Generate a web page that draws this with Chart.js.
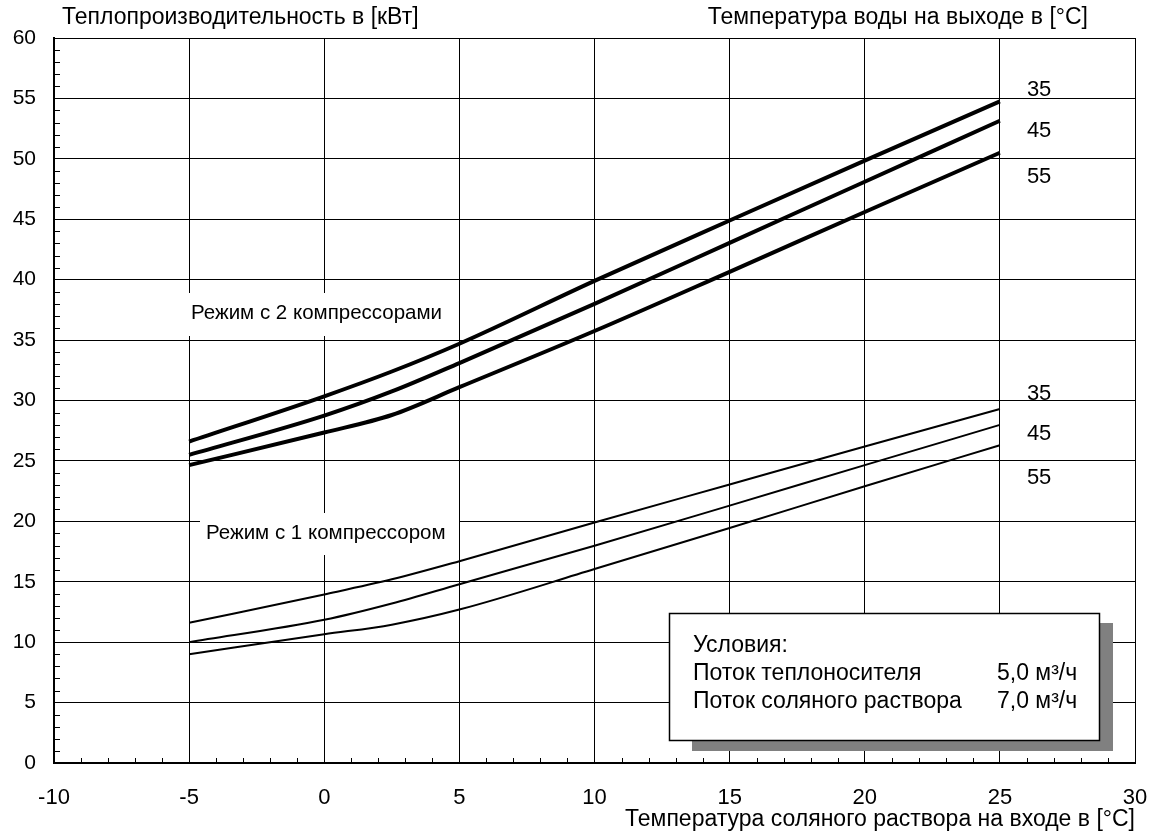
<!DOCTYPE html>
<html><head><meta charset="utf-8">
<script src="https://cdn.jsdelivr.net/npm/chart.js@4.4.1/dist/chart.umd.min.js"></script>
<style>html,body{margin:0;padding:0;background:#fff;}#wrap{width:1158px;height:838px;}</style>
</head><body><div id="wrap"><canvas id="c" width="1158" height="838"></canvas></div>
<script>
// ---- data ----
const brineTemps = [-5, 0, 2.5, 5, 10, 15, 20, 25];
const twoComp35 = [26.6, 30.35, 32.4, 34.7, 39.9, 44.9, 49.85, 54.75];
const twoComp45 = [25.5, 28.75, 30.75, 33.1, 38.0, 43.05, 48.1, 53.15];
const twoComp55 = [24.65, 27.35, 28.8, 31.1, 35.75, 40.65, 45.6, 50.5];
const oneComp35 = [11.6, 13.95, 15.2, 16.7, 19.9, 23.05, 26.2, 29.3];
const oneComp45 = [10.0, 11.85, 13.2, 14.8, 17.98, 21.3, 24.65, 27.98];
const oneComp55 = [9.0, 10.65, 11.45, 12.7, 16.05, 19.45, 22.9, 26.3];
const outletTemps = ['35', '45', '55'];
const xRange = [-10, 30];
const yRange = [0, 60];

const FONT = "'Liberation Sans', Arial, sans-serif";

function series(vals) { return brineTemps.map((x, i) => ({x: x, y: vals[i]})); }
function ds(vals, w) {
  return {data: series(vals), borderColor: '#000', borderWidth: w, pointRadius: 0,
    fill: false, cubicInterpolationMode: 'monotone', borderCapStyle: 'butt'};
}

const decor = {
  id: 'decor',
  beforeDatasetsDraw(chart) {
    const ctx = chart.ctx, xs = chart.scales.x, ys = chart.scales.y, a = chart.chartArea;
    ctx.save();
    // minor ticks
    ctx.strokeStyle = '#000'; ctx.lineWidth = 1;
    ctx.beginPath();
    for (let v = xRange[0] + 1; v < xRange[1]; v++) {
      if (v % 5 === 0) continue;
      const px = Math.round(xs.getPixelForValue(v)) + 0.5;
      ctx.moveTo(px, a.bottom); ctx.lineTo(px, a.bottom - 5);
    }
    for (let v = yRange[0] + 1; v < yRange[1]; v++) {
      if (v % 5 === 0) continue;
      const py = Math.round(ys.getPixelForValue(v)) + 0.5;
      ctx.moveTo(a.left, py); ctx.lineTo(a.left + 6, py);
    }
    ctx.stroke();
    // mode labels with white backing
    ctx.font = '20.5px ' + FONT;
    ctx.textBaseline = 'middle'; ctx.textAlign = 'left';
    const boxes = [
      {t: 'Режим с 2 компрессорами', x0: 180, x1: 456, y0: 293, y1: 336, tx: 191, ty: 313},
      {t: 'Режим с 1 компрессором', x0: 200, x1: 459, y0: 513, y1: 555, tx: 206, ty: 533}
    ];
    boxes.forEach(b => {
      ctx.fillStyle = '#fff'; ctx.fillRect(b.x0, b.y0, b.x1 - b.x0, b.y1 - b.y0);
      ctx.fillStyle = '#000'; ctx.fillText(b.t, b.tx, b.ty);
    });
    ctx.restore();
  },
  afterDatasetsDraw(chart) {
    const ctx = chart.ctx, xs = chart.scales.x, a = chart.chartArea;
    ctx.save();
    ctx.font = '23px ' + FONT;
    ctx.fillStyle = '#000';
    ctx.textBaseline = 'middle';
    // titles
    ctx.textAlign = 'left';
    ctx.fillText('Теплопроизводительность в [кВт]', 62, 18);
    ctx.textAlign = 'right';
    ctx.fillText('Температура воды на выходе в [°C]', 1088, 18);
    ctx.fillText('Температура соляного раствора на входе в [°C]', a.right, 820);
    // series labels
    ctx.font = '22px ' + FONT;
    ctx.textAlign = 'left';
    const lx = xs.getPixelForValue(25) + 27;
    [89.5, 131, 177].forEach((py, i) => ctx.fillText(outletTemps[i], lx, py));
    [394, 434, 478].forEach((py, i) => ctx.fillText(outletTemps[i], lx, py));
    // info box
    ctx.fillStyle = '#808080';
    ctx.fillRect(692, 623, 421, 128);
    ctx.fillStyle = '#fff';
    ctx.fillRect(669.5, 613.5, 430, 127);
    ctx.strokeStyle = '#000'; ctx.lineWidth = 1.5;
    ctx.strokeRect(669.5, 613.5, 430, 127);
    ctx.font = '23px ' + FONT;
    ctx.fillStyle = '#000';
    ctx.textAlign = 'left';
    ctx.fillText('Условия:', 693, 646);
    ctx.fillText('Поток теплоносителя', 693, 674);
    ctx.fillText('Поток соляного раствора', 693, 702);
    ctx.fillText('5,0 м³/ч', 997, 674);
    ctx.fillText('7,0 м³/ч', 997, 702);
    ctx.restore();
  }
};

new Chart(document.getElementById('c'), {
  type: 'line',
  data: {datasets: [
    ds(twoComp35, 4), ds(twoComp45, 4), ds(twoComp55, 4),
    ds(oneComp35, 2), ds(oneComp45, 2), ds(oneComp55, 2)
  ]},
  options: {
    responsive: false, animation: false, devicePixelRatio: 1,
    layout: {padding: {top: 38, right: 23, left: 0, bottom: 0}},
    plugins: {legend: {display: false}, tooltip: {enabled: false}, title: {display: false}},
    scales: {
      x: {type: 'linear', min: xRange[0], max: xRange[1],
        ticks: {stepSize: 5, color: '#000', font: {family: FONT, size: 22}, padding: 22, maxRotation: 0},
        grid: {color: '#000', lineWidth: 1, drawTicks: false},
        border: {color: '#000', width: 2},
        afterFit(s) { s.height = 75; s.paddingLeft = 0; s.paddingRight = 0; }
      },
      y: {type: 'linear', min: yRange[0], max: yRange[1],
        ticks: {stepSize: 5, color: '#000', font: {family: FONT, size: 21}, padding: 18},
        grid: {color: '#000', lineWidth: 1, drawTicks: false},
        border: {color: '#000', width: 2},
        afterFit(s) { s.width = 54; s.paddingTop = 0; s.paddingBottom = 0; }
      }
    }
  },
  plugins: [decor]
});
</script></body></html>
